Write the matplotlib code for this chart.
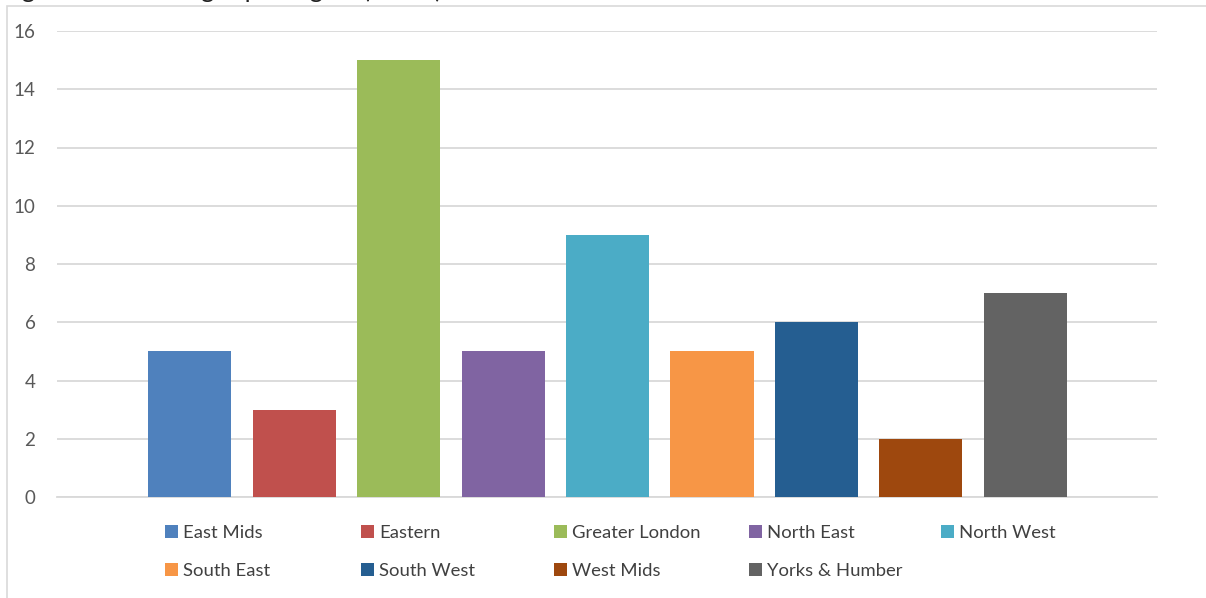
import matplotlib.pyplot as plt
from matplotlib.patches import Patch, Rectangle

# data
regions = ['East Mids', 'Eastern', 'Greater London', 'North East', 'North West',
           'South East', 'South West', 'West Mids', 'Yorks & Humber']
challenges = [5, 3, 15, 5, 9, 5, 6, 2, 7]
colors = ['#4F81BD', '#C0504D', '#9BBB59', '#8064A2', '#4BACC6',
          '#F79646', '#255E91', '#9E480E', '#636363']
y_ticks = [0, 2, 4, 6, 8, 10, 12, 14, 16]

plt.rcParams['font.family'] = ['Lato', 'DejaVu Sans']

W, H = 1206, 598
fig = plt.figure(figsize=(W / 100, H / 100), dpi=100)

# chart border (bottom/right run off the page)
fig.patches.append(Rectangle((7 / W, -0.05), 1.2, 1 - 6 / H + 0.05,
                             transform=fig.transFigure, fill=False,
                             edgecolor='#D9D9D9', linewidth=1.2))

# caption from the page above, mostly cut off by the crop (as in the source)
fig.text(2 / W, 1 + 1.5 / H, 'Figure 10: Challenges per region (actual) in 2017/18',
         fontsize=18, color='#222222', va='baseline', ha='left')

ax = fig.add_axes([57 / W, 1 - 497 / H, 1100 / W, 466 / H])
x = list(range(len(regions)))
ax.bar(x, challenges, width=0.795, color=colors, zorder=3)

ax.set_xlim(-1.27, len(regions) - 1 + 1.26)
ax.set_ylim(0, 16)
ax.set_yticks(y_ticks)
ax.set_xticks([])
ax.tick_params(axis='y', length=0, pad=15.5, labelsize=13.5, labelcolor='#595959')
ax.grid(axis='y', color='#D9D9D9', linewidth=1.3, zorder=0)
for s in ['top', 'right', 'left']:
    ax.spines[s].set_visible(False)
ax.spines['bottom'].set_color('#D9D9D9')
ax.spines['bottom'].set_linewidth(1.3)
ax.set_facecolor('none')

# legend: 5 equal-width columns, filled row-wise
col_x = [165, 361, 554, 749, 941]
ncol = 5
for c in range(ncol):
    idx = [i for i in range(len(regions)) if i % ncol == c]
    handles = [Patch(facecolor=colors[i], edgecolor='none') for i in idx]
    labels = [regions[i] for i in idx]
    fig.legend(handles, labels, loc='upper left',
               bbox_to_anchor=(col_x[c] / W, 1 - 525 / H),
               frameon=False, fontsize=13.3, labelcolor='#404040',
               handlelength=0.7, handleheight=0.7, handletextpad=0.3,
               labelspacing=1.2, borderpad=0, borderaxespad=0)

fig.savefig('out.png', dpi=100)
